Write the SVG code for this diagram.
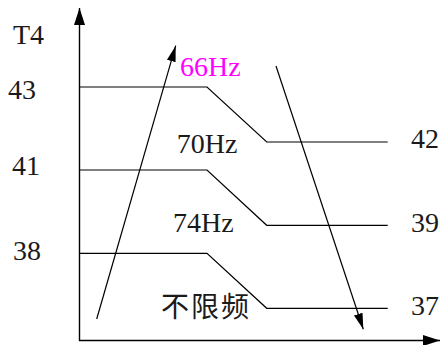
<svg xmlns="http://www.w3.org/2000/svg" width="441" height="345" viewBox="0 0 441 345">
<style>
.ln{fill:none;stroke:#000;stroke-width:1.2}
.ax{fill:none;stroke:#000;stroke-width:1.4}
.t{font-family:"Liberation Serif","Times New Roman",serif;font-size:28px;fill:#1a1a1a}
.cj{font-family:"Noto Sans CJK SC","Noto Sans CJK JP",sans-serif;font-size:28px;fill:#1a1a1a;letter-spacing:2px}
</style>
<defs>
<marker id="arr" markerUnits="userSpaceOnUse" markerWidth="17" markerHeight="10" refX="16" refY="4.5" orient="auto"><path d="M0,0 L16,4.5 L0,9 z" fill="#000"/></marker>
<marker id="axarr" markerUnits="userSpaceOnUse" markerWidth="18" markerHeight="12" refX="17" refY="5.5" orient="auto"><path d="M0,0 L17,5.5 L0,11 z" fill="#000"/></marker>
</defs>
<rect width="441" height="345" fill="#fff"/>
<g id="connectors">
<line class="ax" x1="79.5" y1="341" x2="79.5" y2="8" marker-end="url(#axarr)"/>
<line class="ax" x1="79" y1="340.5" x2="440" y2="340.5" marker-end="url(#axarr)"/>
<polyline class="ln" points="79.5,87 207,87 266.7,142 387.7,142"/>
<polyline class="ln" points="79.5,170 207,170 266.7,225.3 387.7,225.3"/>
<polyline class="ln" points="79.5,253.3 207,253.3 266.7,308.3 387.7,308.3"/>
<line class="ln" x1="96.7" y1="319" x2="175.7" y2="45.7" marker-end="url(#arr)"/>
<line class="ln" x1="276" y1="66" x2="363.3" y2="329.3" marker-end="url(#arr)"/>
</g>
<g id="labels">
<text class="t" x="13" y="44">T4</text>
<text class="t" x="8" y="99">43</text>
<text class="t" x="12" y="175">41</text>
<text class="t" x="13" y="260">38</text>
<text class="t" x="411" y="148">42</text>
<text class="t" x="411" y="232">39</text>
<text class="t" x="411" y="315">37</text>
<text class="t" x="180" y="76" style="fill:#ff00ff">66Hz</text>
<text class="t" x="176.7" y="153">70Hz</text>
<text class="t" x="173" y="231.7">74Hz</text>
<text class="cj" x="161" y="317">不限频</text>
</g>
</svg>
